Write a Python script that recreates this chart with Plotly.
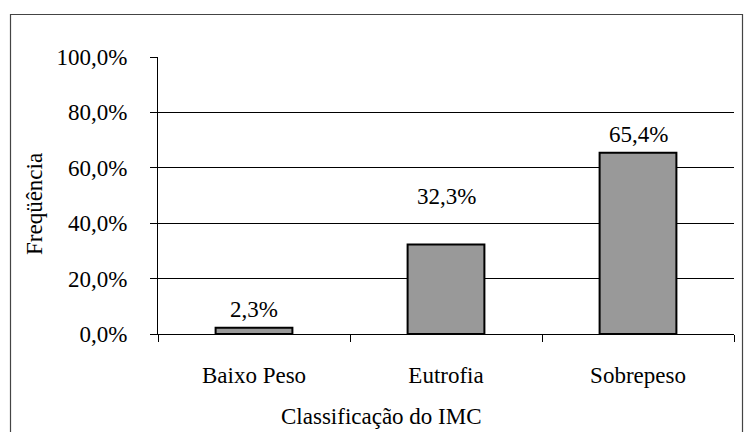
import plotly.graph_objects as go

# Distribuição das classes de IMC
categorias = ["Baixo Peso", "Eutrofia", "Sobrepeso"]
frequencias = [2.3, 32.3, 65.4]
rotulos = ["2,3%", "32,3%", "65,4%"]
rotulo_deslocamento = [4, 34, 4]  # px acima do topo da barra

ticks_y = [0, 20, 40, 60, 80, 100]
ticks_y_texto = ["0,0%", "20,0%", "40,0%", "60,0%", "80,0%", "100,0%"]

FONTE = "Liberation Serif, Times New Roman, DejaVu Serif, serif"
TAM = 23
W, H = 744, 432
ML, MR, MT, MB = 158, 10, 57, 98
pw, ph = W - ML - MR, H - MT - MB

def px_x(p):
    return (p - ML) / pw

def px_y(p):
    return (H - MB - p) / ph

fig = go.Figure(
    go.Bar(
        x=categorias,
        y=frequencias,
        width=0.4,
        marker=dict(color="#999999", line=dict(color="#000000", width=2)),
        hoverinfo="skip",
    )
)

for c, v, t, d in zip(categorias, frequencias, rotulos, rotulo_deslocamento):
    fig.add_annotation(
        x=c, y=v, text=t, showarrow=False, yanchor="bottom", yshift=d,
        font=dict(family=FONTE, size=TAM, color="#000000"),
    )

# títulos dos eixos
fig.add_annotation(
    xref="paper", yref="paper", x=px_x(381), y=px_y(416),
    xanchor="center", yanchor="middle", text="Classificação do IMC",
    showarrow=False, font=dict(family=FONTE, size=TAM, color="#000000"),
)
fig.add_annotation(
    xref="paper", yref="paper", x=px_x(34), y=px_y(204),
    xanchor="center", yanchor="middle", text="Freqüência", textangle=-90,
    showarrow=False, font=dict(family=FONTE, size=TAM, color="#000000"),
)

# moldura externa do gráfico
fig.add_shape(
    type="rect", xref="paper", yref="paper",
    x0=px_x(10.5), x1=px_x(742.5), y0=px_y(440), y1=px_y(14.5),
    line=dict(color="#444444", width=1.2), fillcolor="rgba(0,0,0,0)", layer="below",
)

fig.update_layout(
    width=W, height=H,
    margin=dict(l=ML, r=MR, t=MT, b=MB),
    paper_bgcolor="#ffffff", plot_bgcolor="#ffffff",
    showlegend=False,
    font=dict(family=FONTE, size=TAM, color="#000000"),
)
fig.update_xaxes(
    showline=True, linecolor="#000000", linewidth=1,
    ticks="outside", tickson="boundaries", ticklen=7, tickcolor="#000000",
    showgrid=False, tickfont=dict(family=FONTE, size=TAM),
    ticklabelstandoff=20,
    range=[-0.5, 2.5], fixedrange=True,
)
fig.update_yaxes(
    range=[0, 100], tickvals=ticks_y, ticktext=ticks_y_texto,
    showline=True, linecolor="#000000", linewidth=1,
    ticks="outside", ticklen=7, tickcolor="#000000",
    showgrid=True, gridcolor="#000000", gridwidth=1,
    zeroline=False, tickfont=dict(family=FONTE, size=TAM), ticklabelstandoff=18,
    fixedrange=True,
)

fig.write_html("out.html")
